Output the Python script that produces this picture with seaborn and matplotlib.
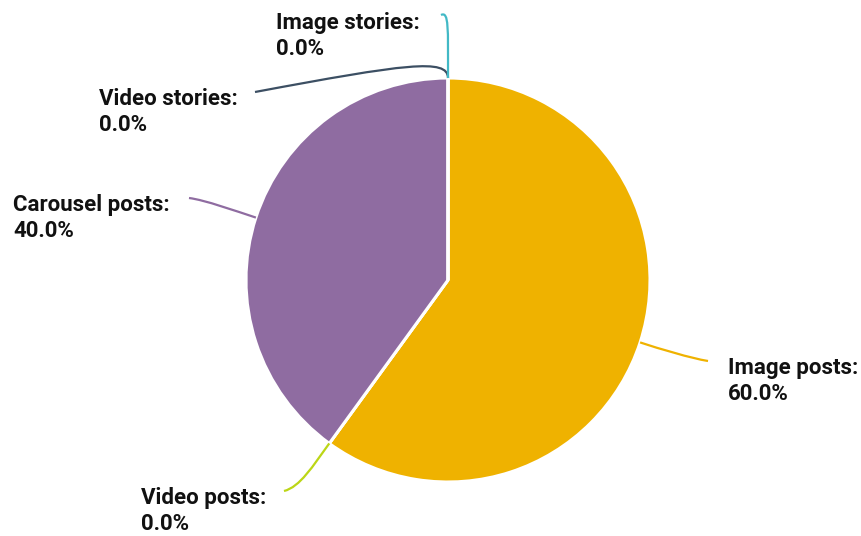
import matplotlib
matplotlib.use("Agg")
import matplotlib.pyplot as plt
from matplotlib.path import Path
from matplotlib.patches import PathPatch
import numpy as np
import seaborn as sns

# Post type shares (percent), in clockwise order from 12 o'clock
categories = ["Image posts", "Video posts", "Carousel posts", "Video stories", "Image stories"]
shares = [60.0, 0.0, 40.0, 0.0, 0.0]
colors = ["#EFB200", "#BCD616", "#8F6CA1", "#3C4F63", "#42B9C6"]

sns.set_theme(style="white")
plt.rcParams["font.family"] = ["Roboto", "DejaVu Sans"]

W, H = 861, 536
fig = plt.figure(figsize=(W / 100, H / 100), dpi=100)
ax = fig.add_axes([0, 0, 1, 1])

cx, cy, R = 448, 256, 202
wedges, _ = ax.pie(
    shares, colors=colors, startangle=90, counterclock=False,
    center=(cx, cy), radius=R,
    wedgeprops=dict(edgecolor="white", linewidth=2.2),
)
ax.set_xlim(0, W)
ax.set_ylim(0, H)
ax.set_aspect("auto")
ax.axis("off")

# Label layout: text anchor (left, vertical centre) and connector end point,
# plus how far the connector leaves the rim radially and how it enters the label.
layout = {
    "Image posts":    dict(text=(728, 155), end=(708, 175), out=22, into=(-18, 3)),
    "Video posts":    dict(text=(141, 25),  end=(284, 45),  out=28, into=(16, 4)),
    "Carousel posts": dict(text=(13, 318),  end=(189, 338), out=22, into=(16, -2)),
    "Video stories":  dict(text=(99, 424),  end=(255, 444), out=20, into=(150, 28)),
    "Image stories":  dict(text=(276, 500), end=(441, 521), out=50, into=(8, 4)),
}

total = sum(shares)
start = 90.0
for name, val, col in zip(categories, shares, colors):
    sweep = 360.0 * val / total
    mid = np.deg2rad(start - sweep / 2)
    start -= sweep
    d = np.array([np.cos(mid), np.sin(mid)])
    p0 = np.array([cx, cy]) + R * d
    lay = layout[name]
    p1 = p0 + lay["out"] * d
    p3 = np.array(lay["end"], dtype=float)
    p2 = p3 + np.array(lay["into"], dtype=float)
    path = Path([p0, p1, p2, p3], [Path.MOVETO, Path.CURVE4, Path.CURVE4, Path.CURVE4])
    ax.add_patch(PathPatch(path, facecolor="none", edgecolor=col, lw=1.6, zorder=3))
    tx, ty = lay["text"]
    ax.text(tx, ty, f"{name}:\n{val:.1f}%", ha="left", va="center",
            fontsize=16, fontweight="bold", color="#111111", linespacing=1.22)

fig.savefig("out.png", dpi=100)
